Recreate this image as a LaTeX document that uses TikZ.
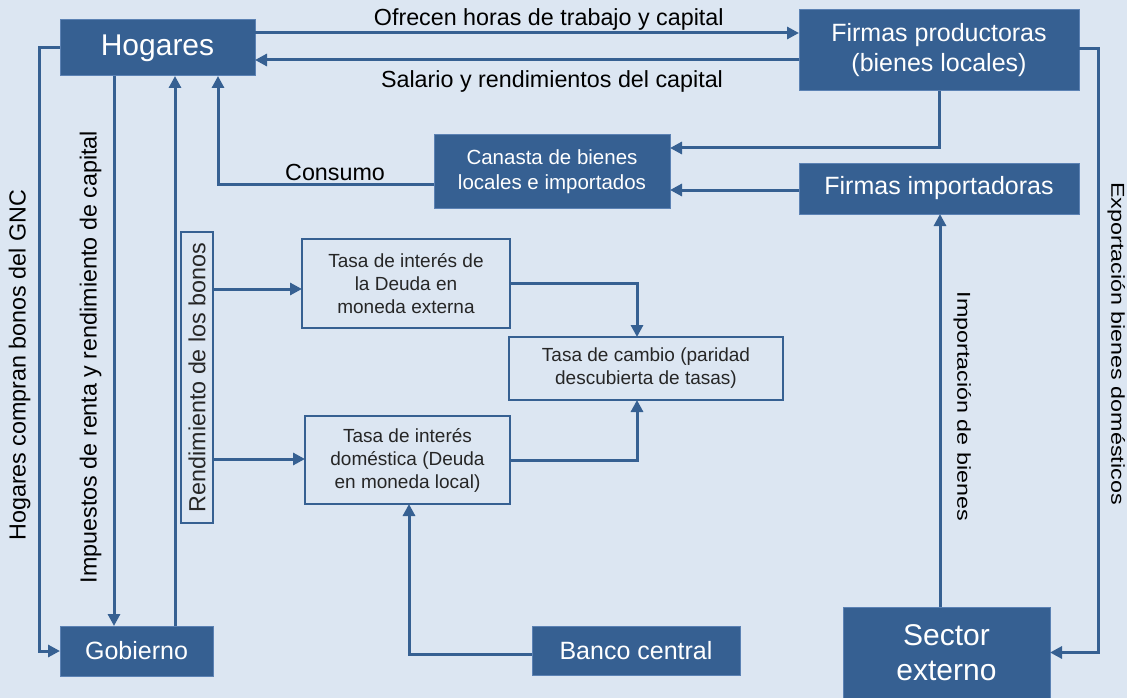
\documentclass[tikz,border=0pt]{standalone}
\usepackage{fontspec}
\setmainfont{Liberation Sans}
\usetikzlibrary{arrows.meta, positioning}
\definecolor{boxcolor}{RGB}{54,96,146}
\definecolor{edgecolor}{RGB}{92,130,180}
\definecolor{bgcolor}{RGB}{220,230,242}

\begin{document}
\begin{tikzpicture}[x=1pt, y=-1pt,
    agent/.style={rectangle, draw=edgecolor, line width=1pt, fill=boxcolor, text=white, align=center, inner sep=0pt, outer sep=0pt},
    rate/.style={rectangle, draw=boxcolor, line width=1.5pt, text=black!85, align=center, inner sep=0pt, outer sep=0pt, font=\fontsize{19}{23}\selectfont},
    arrow/.style={->, >={Triangle[length=12pt, width=12pt]}, line width=3pt, draw=boxcolor},
    flow/.style={font=\fontsize{23.3}{28}\selectfont, inner sep=1pt}]

    % Background
    \fill[bgcolor] (0,0) rectangle (1127,698);
    \useasboundingbox (0,0) rectangle (1127,698);

    % Nodes
    \node[agent, minimum width=195pt, minimum height=56pt, font=\fontsize{30}{35}\selectfont] (hogares) at (157.5,48) {Hogares};
    \node[agent, minimum width=280pt, minimum height=81pt, font=\fontsize{25}{30}\selectfont] (productoras) at (939,50.5) {Firmas productoras\\(bienes locales)};
    \node[agent, minimum width=280pt, minimum height=51pt, font=\fontsize{25}{30}\selectfont] (importadoras) at (939,188.5) {Firmas importadoras};
    \node[agent, minimum width=236pt, minimum height=73pt, font=\fontsize{20.5}{25}\selectfont] (canasta) at (552,171.5) {Canasta de bienes\\locales e importados};
    \node[agent, minimum width=153pt, minimum height=50pt, font=\fontsize{25}{30}\selectfont] (gobierno) at (136.5,651) {Gobierno};
    \node[agent, minimum width=208pt, minimum height=49pt, font=\fontsize{25}{30}\selectfont] (banco) at (636,650.5) {Banco central};
    \node[agent, minimum width=207pt, minimum height=91pt, font=\fontsize{30}{35}\selectfont] (sector) at (946.5,652.5) {Sector\\externo};

    \node[rate, minimum width=208pt, minimum height=89pt] (externa) at (406,283.5) {Tasa de interés de\\la Deuda en\\moneda externa};
    \node[rate, minimum width=205pt, minimum height=88pt] (domestica) at (407.5,460) {Tasa de interés\\doméstica (Deuda\\en moneda local)};
    \node[rate, minimum width=274pt, minimum height=63pt] (cambio) at (646,368.5) {Tasa de cambio (paridad\\descubierta de tasas)};
    \node[rate, minimum width=32pt, minimum height=291pt, font=\fontsize{23.3}{28}\selectfont] (bonos) at (197,377.5) {\rotatebox{90}{Rendimiento de los bonos}};

    % Arrows
    \draw[arrow] ([yshift=15pt]hogares.east) -- ([yshift=15pt]hogares.east -| productoras.west)
        node[flow, pos=0.54, above=0pt] {Ofrecen horas de trabajo y capital};
    \draw[arrow] ([yshift=-9.5pt]productoras.west) -- ([yshift=-9.5pt]productoras.west -| hogares.east)
        node[flow, pos=0.454, below=8pt] {Salario y rendimientos del capital};
    \draw[arrow] (productoras.south) |- ([yshift=23.5pt]canasta.east);
    \draw[arrow] ([yshift=-1.5pt]importadoras.west) -- ([yshift=-18.5pt]canasta.east);
    \draw[arrow] ([yshift=-12.5pt]canasta.west) -| ([xshift=60.5pt]hogares.south)
        node[flow, pos=0.229, above=1pt] {Consumo};

    \draw[arrow] ([xshift=-43.5pt]hogares.south) -- ([xshift=-22.5pt]gobierno.north)
        node[flow, pos=0.511, rotate=90, anchor=south, inner ysep=11pt] {Impuestos de renta y rendimiento de capital};
    \draw[arrow] ([xshift=38.5pt]gobierno.north) -- ([xshift=17.5pt]hogares.south);
    \draw[arrow] (hogares.west) -- ++(-21,0) |- (gobierno.west)
        node[flow, pos=0.263, rotate=90, anchor=south, inner ysep=7pt] {Hogares compran bonos del GNC};

    \draw[arrow] ([yshift=88.5pt]bonos.east) -- ([yshift=88.5pt]bonos.east -| externa.west);
    \draw[arrow] ([yshift=-81.5pt]bonos.east) -- ([yshift=-81.5pt]bonos.east -| domestica.west);
    \draw[arrow] (externa.east) -| ([xshift=-9pt]cambio.north);
    \draw[arrow] (domestica.east) -| ([xshift=-9pt]cambio.south);
    \draw[arrow] ([yshift=-3.5pt]banco.west) -| ([xshift=1.5pt]domestica.south);

    \draw[arrow] ([xshift=-6.5pt]sector.north) -- ([xshift=-6.5pt]sector.north |- importadoras.south)
        node[flow, pos=0.511, rotate=-90, anchor=south, inner ysep=12pt] {\scalebox{1}[0.8]{Importación de bienes}};
    \draw[arrow] ([yshift=1.5pt]productoras.east) -- ++(19,0) |- (sector.east)
        node[flow, pos=0.244, rotate=-90, anchor=south, inner ysep=8pt] {\scalebox{1}[0.8]{Exportación bienes domésticos}};

\end{tikzpicture}
\end{document}
